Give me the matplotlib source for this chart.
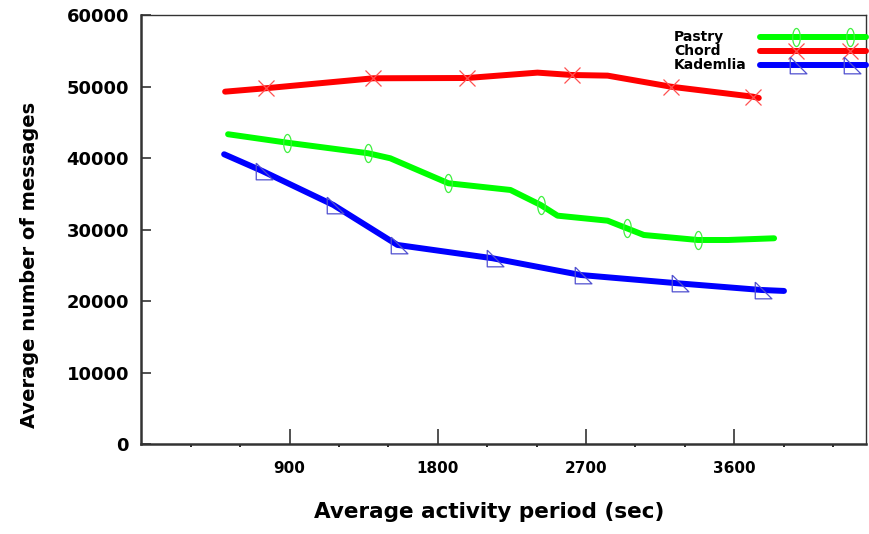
import numpy as np
import matplotlib
matplotlib.use('Agg')
import matplotlib.pyplot as plt
from matplotlib.path import Path
from matplotlib.lines import Line2D
from matplotlib.legend_handler import HandlerLine2D

# data
pastry_x = [526, 885, 1377, 1511, 1864, 2241, 2424, 2527, 2831, 2947, 3051, 3379, 3562, 3842]
pastry_y = [43330, 42150, 40670, 39970, 36480, 35540, 33450, 31950, 31250, 30190, 29250, 28550, 28550, 28790]
pastry_marks = [1, 2, 4, 6, 9, 11]

chord_x = [508, 757, 1408, 1979, 2405, 2612, 2831, 3214, 3713, 3749]
chord_y = [49280, 49760, 51150, 51190, 51940, 51610, 51520, 49980, 48580, 48400]
chord_marks = [1, 2, 3, 5, 7, 8]

kad_x = [502, 733, 1165, 1554, 2132, 2667, 3257, 3762, 3902]
kad_y = [40530, 38200, 33450, 27860, 26000, 23660, 22500, 21570, 21430]
kad_marks = [1, 2, 3, 4, 5, 6, 7]

names = ['Pastry', 'Chord', 'Kademlia']
xticks = [900, 1800, 2700, 3600]
yticks = [0, 10000, 20000, 30000, 40000, 50000, 60000]


# legend sample: full line, two markers placed inside it
class InnerMarkers(HandlerLine2D):
    def create_artists(self, legend, orig_handle, xdescent, ydescent,
                       width, height, fontsize, trans):
        xdata = -xdescent + width * np.array([0.0, 0.34, 0.85, 1.0])
        ydata = np.full_like(xdata, (height - ydescent) / 2)
        line = Line2D(xdata, ydata)
        self.update_prop(line, orig_handle, legend)
        line.set_markevery([1, 2])
        line.set_transform(trans)
        return [line]


# custom markers
t = np.linspace(0, 2 * np.pi, 40)
ellipse = Path(np.column_stack([0.42 * np.cos(t), np.sin(t)]))
rtri = Path([(-0.45, 0.6), (-0.45, -0.6), (0.75, -0.6), (-0.45, 0.6)])

plt.rcParams['font.family'] = 'DejaVu Sans'
fig = plt.figure(figsize=(8.69, 5.34), dpi=100)
ax = fig.add_axes([0.1628, 0.168, 0.8337, 0.804])

h1, = ax.plot(pastry_x, pastry_y, color='#00ff00', lw=4.3, solid_capstyle='round',
              marker=ellipse, markevery=pastry_marks, ms=13, mfc='none', mec='#40f040', mew=0.9)
h2, = ax.plot(chord_x, chord_y, color='#ff0000', lw=4.3, solid_capstyle='round',
              marker='x', markevery=chord_marks, ms=12, mfc='none', mec='#ff5050', mew=0.9)
h3, = ax.plot(kad_x, kad_y, color='#0000ff', lw=4.3, solid_capstyle='round',
              marker=rtri, markevery=kad_marks, ms=15, mfc='none', mec='#5050d0', mew=0.9)

ax.set_xlim(0, 4400)
ax.set_ylim(0, 60000)
ax.set_xticks(xticks)
ax.set_xticks([x for x in range(300, 4400, 300) if x % 900], minor=True)
ax.set_yticks(yticks)
ax.tick_params(axis='both', which='major', direction='in', color='#333333')
ax.tick_params(axis='x', which='major', length=11, width=1.2, pad=12, labelsize=11)
ax.tick_params(axis='x', which='minor', length=2.5, width=1.2)
ax.tick_params(axis='y', which='major', length=7, width=1.2, pad=9, labelsize=13)
ax.tick_params(axis='y', which='minor', left=False)
for lab in ax.get_xticklabels() + ax.get_yticklabels():
    lab.set_fontweight('bold')

for side in ['left', 'bottom']:
    ax.spines[side].set_linewidth(1.8)
    ax.spines[side].set_color('#333333')
for side in ['top', 'right']:
    ax.spines[side].set_linewidth(1.0)
    ax.spines[side].set_color('#333333')

ax.set_xlabel('Average activity period (sec)', fontsize=15.5, fontweight='bold')
ax.set_ylabel('Average number of messages', fontsize=14, fontweight='bold')
ax.xaxis.set_label_coords(0.48, -0.135)
ax.yaxis.set_label_coords(-0.142, 0.418)

# legend samples only, labels written left-aligned next to them
leg = fig.legend([h1, h2, h3], ['', '', ''], loc='upper right',
                 bbox_to_anchor=(866 / 869, 1 - 31 / 534),
                 frameon=False, markerfirst=False, handlelength=7.6,
                 labelspacing=0.0, borderpad=0, borderaxespad=0, handletextpad=0,
                 prop={'weight': 'bold', 'size': 10},
                 handler_map={Line2D: InnerMarkers()})
fig.canvas.draw()
renderer = fig.canvas.get_renderer()
for line, name in zip(leg.get_lines(), names):
    bb = line.get_window_extent(renderer)
    yc = (bb.y0 + bb.y1) / 2 / fig.bbox.height
    fig.text(674 / 869, yc, name, ha='left', va='center', fontsize=10, fontweight='bold')

fig.savefig('out.png', dpi=100)
